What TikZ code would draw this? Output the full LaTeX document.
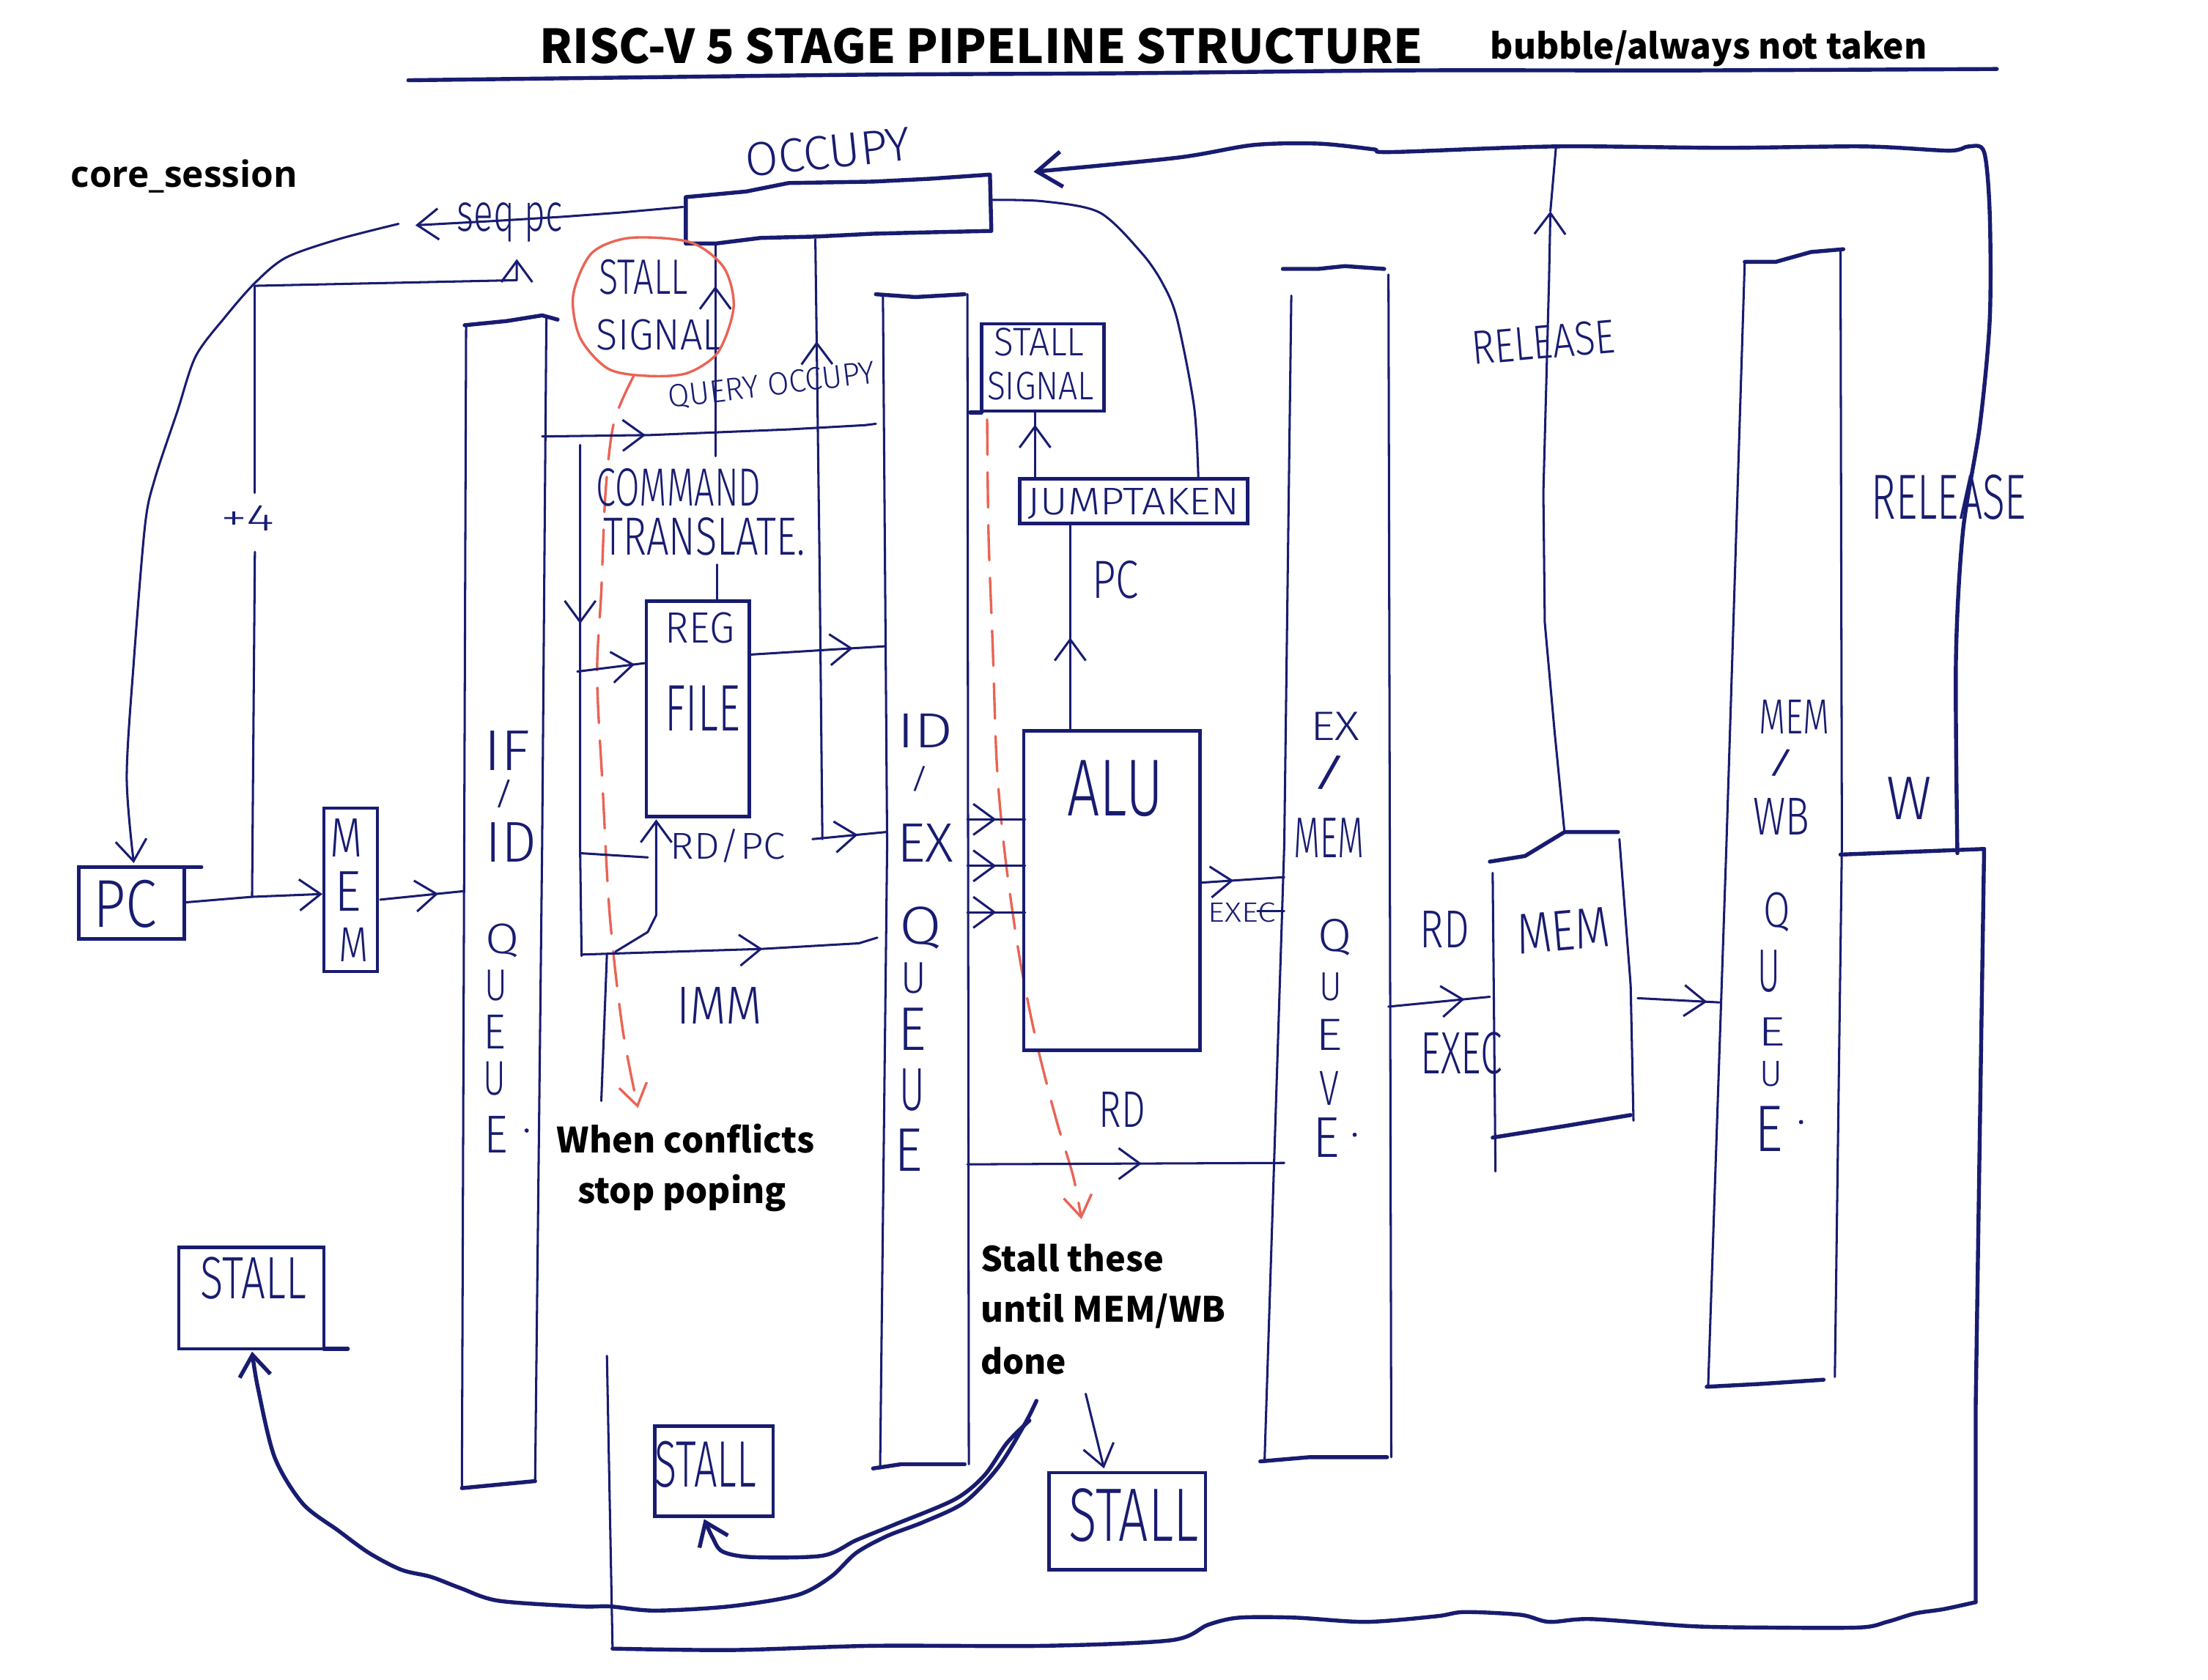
\documentclass[tikz,border=0pt]{standalone}
\usepackage{fontspec}
\usepackage{graphicx}
\usetikzlibrary{arrows.meta,decorations.markings,fit}
\newfontfamily\handfont{Fira Sans}[UprightFont={* Light}]
\newfontfamily\boldfont{Noto Sans CJK SC}
\newfontfamily\osfont{Open Sans}
\definecolor{navy}{RGB}{24,28,112}
\definecolor{redc}{RGB}{233,100,85}
\newlength\hu \setlength\hu{0.2mm}
\newcommand\hw[3]{\resizebox*{#1\hu}{#2\hu}{\handfont #3}}
\newcommand\bw[2]{\resizebox{#1\hu}{!}{\boldfont\bfseries #2}}
\tikzset{
  ln/.style={draw=navy, line width=0.9pt, line cap=round, line join=round},
  thk/.style={draw=navy, line width=1.6pt, line cap=round, line join=round},
  box/.style={draw=navy, line width=1.4pt, inner sep=0pt, rectangle},
  tip/.style={-{Straight Barb[length=3mm,width=4.4mm]}},
  midarr/.style={postaction={decorate, decoration={markings, mark=at position #1 with {\arrow{Straight Barb[length=3mm,width=4.4mm]}}}}},
  hand/.style={text=navy, inner sep=0pt},
  blk/.style={text=black, inner sep=0pt},
  reddash/.style={draw=redc, line width=1pt, dash pattern=on 5mm off 2.5mm, line cap=round},
}
\begin{document}
\begin{tikzpicture}[x=0.2mm, y=-0.2mm]
\fill[white] (0,0) rectangle (1568,1193);
\path[use as bounding box] (0,0) rectangle (1568,1193);

% ---------- headings ----------
\node[blk, anchor=base west] (title) at (383,45) {\bw{627}{RISC-V 5 STAGE PIPELINE STRUCTURE}};
\node[blk, anchor=base west] (bubble) at (1058,42) {\bw{310}{bubble/always not taken}};
\node[blk, anchor=base west] (core) at (50,133) {\resizebox{161\hu}{!}{\osfont\bfseries core\_session}};
\draw[thk] plot[smooth] coordinates {(290,57)(450,55)(620,53)(800,52)(1000,50)(1200,50)(1418,49)};

% ---------- IF stage ----------
\node[box, fit={(56,616)(131,667)}] (pc) {};
\draw[thk] (131,616) -- (143,616);
\node[hand] (pctxt) at (89,642) {\hw{45}{34}{PC}};
\node[box, fit={(230,574)(268,690)}] (imem) {};
\node[hand] (m1) at (246,595) {\hw{23}{27}{M}};
\node[hand] (m2) at (247,633) {\hw{19}{28}{E}};
\node[hand] (m3) at (251,671) {\hw{21}{24}{M}};

\draw[ln, tip] plot[smooth] coordinates {(283,159)(240,170)(203,183)(181,201)(160,225)(139,253)(126,292)(110,340)(103,373)(95,470)(90,552)(95,613)};
\draw[ln, tip] (485,147) -- (440,151) -- (399,154) -- (350,157) -- (295,160);
\node[hand] (seqpc) at (362,158) {\hw{75}{28}{seq pc}};
\draw[ln, tip] (181,203) -- (367,199) -- (367,184);
\draw[ln] (181,203) -- (181,350);
\draw[ln] (181,392) -- (179,637);
\node[hand] (plus4) at (176,368) {\hw{38}{18}{+4}};
\draw[ln, tip] (131,641) -- (179,637) -- (229,635);
\draw[ln, midarr=0.7] (270,639) -- (329,633);

% ---------- IF/ID queue ----------
\draw[ln] (331,231) -- (328,1057);
\draw[ln] (388,226) -- (385,600) -- (380,1052);
\draw[thk] (330,231) -- (360,228) -- (385,224) -- (396,227);
\draw[thk] (328,1057) -- (380,1052);
\node[hand] (ifa) at (360,533) {\hw{33}{28}{IF}};
\node[hand] (ifb) at (358,564) {\hw{16}{20}{/}};
\node[hand] (ifc) at (363,598) {\hw{36}{28}{ID}};
\node[hand] (ifd) at (357,668) {\hw{24}{24}{Q}};
\node[hand] (ife) at (352,700) {\hw{16}{22}{U}};
\node[hand] (iff) at (351,733) {\hw{16}{24}{E}};
\node[hand] (ifg) at (351,766) {\hw{16}{24}{U}};
\node[hand] (ifh) at (352,806) {\hw{17}{26}{E}};
\fill[navy] (374,803) circle (1.5);

% ---------- OCCUPY ----------
\draw[thk] (487,140) -- (530,136) -- (560,130) -- (620,129) -- (660,127) -- (703,124) -- (704,164) -- (660,165) -- (620,166) -- (580,168) -- (540,169) -- (508,173) -- (487,173) -- cycle;
\node[hand, rotate=6] (occtxt) at (588,108) {\hw{118}{24}{OCCUPY}};

% ---------- ID stage ----------
\draw[ln, midarr=0.8] (508,324) -- (508,173);
\draw[ln] (509,401) -- (509,427);
\draw[ln, midarr=0.83] (584,596) -- (582,400) -- (579,170);
\draw[ln, midarr=0.62] (577,596) -- (629,591);
\node[hand, rotate=7] (query) at (548,274) {\hw{148}{18}{QUERY OCCUPY}};

\node[hand] (st1) at (457,197) {\hw{63}{25}{STALL}};
\node[hand] (st2) at (468,238) {\hw{89}{22}{SIGNAL}};
\draw[draw=redc, line width=1pt] plot[smooth cycle] coordinates {(447,169)(490,172)(514,190)(521,218)(510,250)(488,265)(460,267)(432,262)(412,240)(407,210)(420,180)};
\draw[reddash, -{Straight Barb[length=3mm,width=4mm]}] plot[smooth] coordinates {(450,267)(436,300)(430,350)(427,420)(424,480)(428,560)(433,650)(442,730)(453,787)};

\draw[ln, midarr=0.31] (385,310) -- (462,309) -- (560,305) -- (614,302) -- (622,301);
\draw[ln, midarr=0.35] (412,316) -- (412,606) -- (413,679);
\node[hand] (cmd) at (482,346) {\hw{117}{27}{COMMAND}};
\node[hand] (trans) at (500,381) {\hw{143}{27}{TRANSLATE.}};
\node[box, fit={(459,427)(532,580)}] (reg) {};
\node[hand] (regt) at (497,446) {\hw{49}{22}{REG}};
\node[hand] (filet) at (499,503) {\hw{53}{32}{FILE}};
\draw[ln, midarr=0.85] (410,477) -- (458,471);
\draw[ln, midarr=0.76] (532,465) -- (629,459);
\draw[ln] (412,606) -- (460,609);
\draw[ln, tip] (437,676) -- (460,662) -- (466,650) -- (466,582);
\node[hand] (rdpc) at (517,601) {\hw{82}{24}{RD/PC}};
\draw[ln, midarr=0.61] (413,678) -- (541,674) -- (610,670) -- (623,666);
\node[hand] (imm) at (511,714) {\hw{61}{26}{IMM}};
\draw[ln] (431,678) -- (427,782);

% ---------- ID/EX queue ----------
\draw[ln] (627,209) -- (630,600) -- (625,1043);
\draw[ln] (687,209) -- (688,1040);
\draw[thk] (622,209) -- (650,211) -- (685,209);
\draw[thk] (620,1043) -- (640,1040) -- (685,1040);
\node[hand] (ida) at (657,519) {\hw{40}{24}{ID}};
\node[hand] (idb) at (653,553) {\hw{15}{18}{/}};
\node[hand] (idc) at (657,599) {\hw{40}{27}{EX}};
\node[hand] (idd) at (654,659) {\hw{30}{30}{Q}};
\node[hand] (ide) at (649,695) {\hw{18}{22}{U}};
\node[hand] (idf) at (648,731) {\hw{20}{30}{E}};
\node[hand] (idg) at (648,774) {\hw{18}{30}{U}};
\node[hand] (idh) at (645,817) {\hw{20}{30}{E}};

% ---------- EX stage ----------
\node[box, fit={(697,230)(784,292)}] (ss2) {};
\draw[thk] (689,293) -- (697,293);
\node[hand] (ss2a) at (738,243) {\hw{64}{20}{STALL}};
\node[hand] (ss2b) at (739,274) {\hw{76}{20}{SIGNAL}};
\node[box, fit={(724,340)(886,372)}] (jump) {};
\node[hand] (jumpt) at (805,358) {\hw{150}{22}{JUMPTAKEN}};
\draw[ln, midarr=0.8] (735,340) -- (735,292);
\draw[ln] plot[smooth] coordinates {(704,142)(741,143)(781,151)(811,180)(826,202)(836,227)(848,289)(851,340)};
\draw[reddash, -{Straight Barb[length=3mm,width=4mm]}] plot[smooth] coordinates {(701,298)(702,380)(705,460)(708,545)(714,610)(724,680)(736,740)(750,795)(762,835)(768,866)};

\node[box, fit={(727,519)(852,746)}] (alu) {};
\node[hand] (alut) at (792,560) {\hw{68}{40}{ALU}};
\draw[ln, midarr=0.45] (760,519) -- (760,372);
\node[hand] (pclab) at (792,412) {\hw{33}{27}{PC}};
\foreach \yy in {582,615,648} { \draw[ln, midarr=0.5] (687,\yy) -- (728,\yy); }
\draw[ln, midarr=0.4] (852,627) -- (912,623);
\draw[ln] (893,647) -- (912,647);
\node[hand] (exec1) at (882,648) {\hw{48}{14}{EXEC}};
\draw[ln, midarr=0.55] (687,827) -- (912,826);
\node[hand] (rd1) at (797,788) {\hw{33}{25}{RD}};

% ---------- EX/MEM queue ----------
\draw[ln] (917,210) -- (912,600) -- (898,1038);
\draw[ln] (986,195) -- (988,1035);
\draw[thk] (911,191) -- (936,191) -- (955,189) -- (983,191);
\draw[thk] (895,1038) -- (930,1035) -- (985,1035);
\node[hand] (ema) at (948,516) {\hw{35}{20}{EX}};
\node[hand] (emb) at (944,549) {\hw{30}{24}{/}};
\node[hand] (emc) at (944,595) {\hw{50}{28}{MEM}};
\node[hand] (emd) at (948,666) {\hw{24}{26}{Q}};
\node[hand] (eme) at (945,701) {\hw{16}{20}{U}};
\node[hand] (emf) at (944,735) {\hw{19}{22}{E}};
\node[hand] (emg) at (944,773) {\hw{14}{24}{V}};
\node[hand] (emh) at (942,808) {\hw{19}{28}{E}};
\fill[navy] (962,806) circle (1.5);

% ---------- MEM stage ----------
\draw[ln, midarr=0.75] (986,715) -- (1058,708);
\node[hand] (rd2) at (1026,660) {\hw{35}{26}{RD}};
\node[hand] (exec2) at (1038,748) {\hw{58}{30}{EXEC}};
\draw[thk] (1058,612) -- (1083,608) -- (1111,591) -- (1149,591);
\draw[ln] (1060,620) -- (1062,832);
\draw[ln] (1150,596) -- (1158,700) -- (1160,796);
\draw[thk] (1060,808) -- (1110,800) -- (1158,792);
\node[hand, rotate=5] (memt) at (1110,661) {\hw{66}{28}{MEM}};
\draw[ln, midarr=0.85] (1163,709) -- (1221,712);
\draw[ln, tip] (1111,591) -- (1104,520) -- (1097,442) -- (1096,350) -- (1100,200) -- (1101,150);
\draw[ln] (1101,150) -- (1105,104);
\node[hand, rotate=5] (rel1) at (1096,243) {\hw{102}{24}{RELEASE}};

% ---------- MEM/WB queue ----------
\draw[ln] (1239,186) -- (1226,600) -- (1213,985);
\draw[ln] (1307,177) -- (1308,600) -- (1303,978);
\draw[thk] (1239,186) -- (1261,186) -- (1286,179) -- (1309,177);
\draw[thk] (1212,985) -- (1250,983) -- (1295,980);
\node[hand] (mwa) at (1274,509) {\hw{50}{24}{MEM}};
\node[hand] (mwb) at (1265,542) {\hw{24}{19}{/}};
\node[hand] (mwc) at (1265,580) {\hw{40}{26}{WB}};
\node[hand] (mwd) at (1262,648) {\hw{19}{28}{Q}};
\node[hand] (mwe) at (1256,690) {\hw{16}{30}{U}};
\node[hand] (mwf) at (1258,733) {\hw{19}{20}{E}};
\node[hand] (mwg) at (1258,763) {\hw{16}{18}{U}};
\node[hand] (mwh) at (1256,802) {\hw{20}{32}{E}};
\fill[navy] (1279,797) circle (1.5);

% ---------- WB / release loop ----------
\draw[thk] (1307,607) -- (1409,603);
\node[hand] (wt) at (1356,567) {\hw{32}{30}{W}};
\node[hand] (rel2) at (1384,353) {\hw{110}{32}{RELEASE}};
\draw[thk, -{Straight Barb[length=3.5mm,width=5mm]}] plot[smooth] coordinates {(1390,606)(1389,468)(1394,377)(1406,302)(1413,227)(1413,152)(1409,108)(1398,104)(1384,107)(1324,104)(1224,105)(1105,104)(988,108)(975,106)(936,102)(890,103)(836,112)(734,122)};
\draw[thk] (1409,603) -- (1406,800) -- (1403,1000) -- (1403,1138);
\draw[thk] plot[smooth] coordinates {(1403,1138)(1380,1143)(1360,1146)(1340,1152)(1320,1156)(1250,1156)(1200,1155)(1130,1150)(1100,1152)(1080,1147)(1040,1145)(1020,1148)(970,1152)(920,1149)(880,1149)(858,1154)(832,1165)(742,1169)(620,1169)(520,1172)(435,1171)};
\draw[ln] (435,1171) -- (431,963);

% ---------- bottom: stall boxes ----------
\node[box, fit={(127,886)(230,958)}] (stA) {};
\draw[thk] (230,958) -- (247,958);
\node[hand] (stAt) at (180,908) {\hw{75}{30}{STALL}};
\node[box, fit={(465,1013)(549,1077)}] (stB) {};
\node[hand] (stBt) at (501,1040) {\hw{72}{33}{STALL}};
\node[box, fit={(745,1046)(856,1115)}] (stC) {};
\node[hand] (stCt) at (805,1076) {\hw{92}{38}{STALL}};
\draw[thk, tip] plot[smooth] coordinates {(736,995)(728,1011)(709,1042)(685,1067)(656,1081)(630,1091)(608,1103)(590,1120)(566,1133)(518,1141)(465,1144)(433,1141)(412,1141)(354,1137)(327,1128)(306,1120)(285,1115)(262,1103)(240,1087)(215,1068)(195,1035)(183,985)(179,960)};
\draw[thk, tip] plot[smooth] coordinates {(731,1009)(715,1025)(699,1048)(678,1065)(635,1083)(608,1094)(584,1105)(534,1106)(513,1102)(506,1092)(500,1079)};
\draw[ln, tip] (771,990) -- (784,1043);

% ---------- notes ----------
\node[blk, anchor=base west] (n1) at (395,819) {\bw{183}{When conflicts}};
\node[blk, anchor=base west] (n2) at (410,855) {\bw{148}{stop poping}};
\node[blk, anchor=base west] (n3) at (696,903) {\bw{130}{Stall these}};
\node[blk, anchor=base west] (n4) at (696,939) {\bw{174}{until MEM/WB}};
\node[blk, anchor=base west] (n5) at (696,976) {\bw{61}{done}};
\end{tikzpicture}
\end{document}
